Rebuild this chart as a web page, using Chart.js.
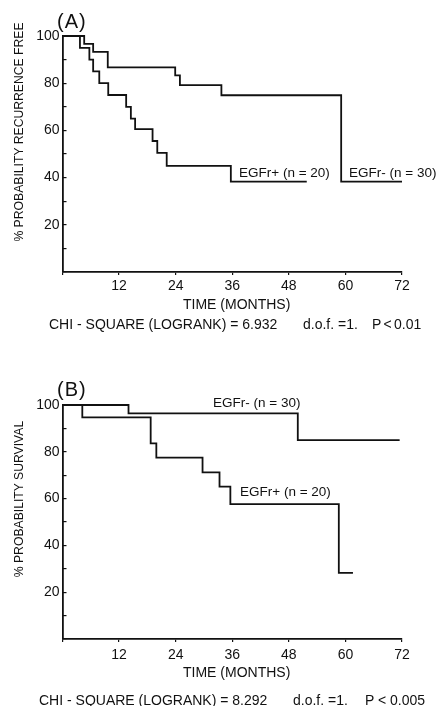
<!DOCTYPE html>
<html>
<head>
<meta charset="utf-8">
<script src="https://cdn.jsdelivr.net/npm/chart.js@4.4.1/dist/chart.umd.min.js"></script>
<style>
  body { margin: 0; background: #fff; }
  #page { position: relative; width: 440px; height: 706px; overflow: hidden;
          font-family: "Liberation Sans", Arial, sans-serif; color: #111; }
  canvas { position: absolute; left: 0; }
  .txt { position: absolute; white-space: pre; line-height: 16px; }
  .ytitle { position: absolute; white-space: pre; font-size: 12.2px; line-height: 14px;
            transform: translate(-50%, -50%) rotate(-90deg); }
</style>
</head>
<body>
<div id="page">
  <canvas id="chartA" width="440" height="312" style="top:0px"></canvas>
  <canvas id="chartB" width="440" height="338" style="top:368px"></canvas>

  <div class="txt" style="left:57px; top:11px; font-size:20px; line-height:20px; letter-spacing:1px">(A)</div>
  <div class="ytitle" style="left:19px; top:132px">% PROBABILITY RECURRENCE FREE</div>
  <div class="txt" style="left:239px; top:165px; font-size:13.5px">EGFr+ (n = 20)</div>
  <div class="txt" style="left:349px; top:165px; font-size:13.5px">EGFr- (n = 30)</div>
  <div class="txt" style="left:183px; top:296px; font-size:14px">TIME (MONTHS)</div>
  <div class="txt" style="left:49px; top:316px; font-size:14px">CHI - SQUARE (LOGRANK) = 6.932</div>
  <div class="txt" style="left:303px; top:316px; font-size:14px">d.o.f. =1.</div>
  <div class="txt" style="left:372px; top:316px; font-size:14px; word-spacing:-1.5px">P &lt; 0.01</div>

  <div class="txt" style="left:57px; top:379px; font-size:20px; line-height:20px; letter-spacing:1px">(B)</div>
  <div class="ytitle" style="left:19px; top:499px">% PROBABILITY SURVIVAL</div>
  <div class="txt" style="left:213px; top:395px; font-size:13.5px">EGFr- (n = 30)</div>
  <div class="txt" style="left:240px; top:484px; font-size:13.5px">EGFr+ (n = 20)</div>
  <div class="txt" style="left:183px; top:664px; font-size:14px">TIME (MONTHS)</div>
  <div class="txt" style="left:39px; top:692px; font-size:14px">CHI - SQUARE (LOGRANK) = 8.292</div>
  <div class="txt" style="left:293px; top:692px; font-size:14px">d.o.f. =1.</div>
  <div class="txt" style="left:365px; top:692px; font-size:14px">P &lt; 0.005</div>
</div>

<script>
// (A) recurrence free, step points (month, % at and after that month)
var aNegMonths = [0, 4.6, 6.5, 9.6, 23.9, 24.9, 33.7, 59.1, 72];
var aNegProb   = [100, 96.7, 93.3, 86.7, 83.3, 79.2, 74.9, 38.3, 38.3];
var aPosMonths = [0, 3.7, 5.7, 6.5, 7.8, 9.7, 13.5, 14.5, 15.4, 19.1, 20.1, 22.1, 35.7, 51.8];
var aPosProb   = [100, 95, 90, 85, 80, 75, 70, 65, 60.5, 55.5, 50.5, 45, 38.3, 38.3];

// (B) survival
var bNegMonths = [0, 14.0, 49.9, 71.5];
var bNegProb   = [100, 96.4, 85.0, 85.0];
var bPosMonths = [0, 4.2, 18.7, 19.9, 29.7, 33.3, 35.6, 58.6, 61.6];
var bPosProb   = [100, 94.7, 83.6, 77.5, 71.2, 65.1, 57.6, 28.3, 28.3];

// axis ticks
var monthTicks = [12, 24, 36, 48, 60, 72];
var probLabels = [20, 40, 60, 80, 100];

var ink = '#111';

function toPoints(months, prob) {
  return months.map(function (m, i) { return { x: m, y: prob[i] }; });
}

function curve(label, months, prob) {
  return {
    label: label,
    data: toPoints(months, prob),
    borderColor: ink,
    borderWidth: 1.8,
    pointRadius: 0,
    fill: false,
    stepped: 'before',
    clip: false
  };
}

function makeChart(id, sets, padTop, padBottom, xTickPad) {
  var ctx = document.getElementById(id).getContext('2d');
  return new Chart(ctx, {
    type: 'line',
    data: { datasets: sets },
    options: {
      responsive: false,
      animation: false,
      layout: { padding: { left: 0, right: 38, top: padTop, bottom: padBottom } },
      plugins: { legend: { display: false }, tooltip: { enabled: false } },
      scales: {
        x: {
          type: 'linear',
          min: 0,
          max: 72,
          afterBuildTicks: function (scale) {
            scale.ticks = [{ value: 0 }].concat(monthTicks.map(function (v) { return { value: v }; }));
          },
          afterFit: function (scale) { scale.height = 40; },
          grid: { drawOnChartArea: false, drawTicks: true, tickLength: 3, color: ink, lineWidth: 1.2 },
          border: { color: ink, width: 1.8 },
          ticks: {
            color: ink,
            padding: xTickPad,
            maxRotation: 0,
            font: { family: 'Liberation Sans', size: 14 },
            callback: function (v) { return monthTicks.indexOf(v) >= 0 ? v : ''; }
          }
        },
        y: {
          min: 0,
          max: 100,
          afterFit: function (scale) { scale.width = 62.5; },
          grid: { drawOnChartArea: false, drawTicks: true, tickLength: -4, color: ink, lineWidth: 1.2 },
          border: { color: ink, width: 1.8 },
          ticks: {
            stepSize: 10,
            color: ink,
            padding: 7,
            font: { family: 'Liberation Sans', size: 14 },
            callback: function (v) { return probLabels.indexOf(v) >= 0 ? v : ''; }
          }
        }
      }
    }
  });
}

function init() {
  makeChart('chartA', [
    curve('EGFr- (n = 30)', aNegMonths, aNegProb),
    curve('EGFr+ (n = 20)', aPosMonths, aPosProb)
  ], 36, 0, 3);

  makeChart('chartB', [
    curve('EGFr- (n = 30)', bNegMonths, bNegProb),
    curve('EGFr+ (n = 20)', bPosMonths, bPosProb)
  ], 37, 27, 4.6);
}

init();
</script>
</body>
</html>
